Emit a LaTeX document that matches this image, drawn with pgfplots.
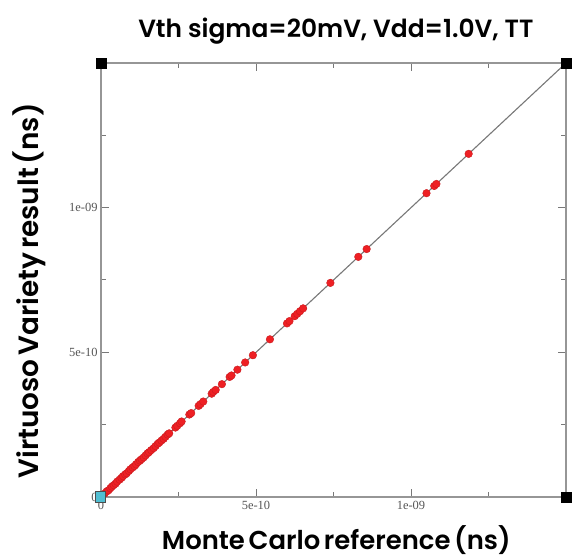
\documentclass[border=0pt]{standalone}
\usepackage{fontspec}
\usepackage{pgfplots}
\pgfplotsset{compat=1.18}
\setmainfont{Poppins}[BoldFont={Poppins SemiBold}]
\newfontfamily\labfont{Poppins}[BoldFont={Poppins SemiBold}, WordSpace=0.4]
\newfontfamily\ylabfont{Poppins}[BoldFont={Poppins SemiBold}, WordSpace=0.6]
\newfontfamily\tickfont{Liberation Serif}
\definecolor{dotred}{RGB}{238,32,36}
\definecolor{framegray}{RGB}{150,150,150}
\definecolor{linegray}{RGB}{120,120,120}
\definecolor{ticktext}{RGB}{85,85,85}
\definecolor{origincyan}{RGB}{80,190,210}

\begin{document}
\begin{tikzpicture}
\begin{axis}[
  scale only axis, width=465bp, height=434bp,
  xmin=0, xmax=1.5e-9, ymin=0, ymax=1.5e-9,
  clip=false, scaled ticks=false,
  axis line style={framegray, line width=1.4bp},
  tick align=inside,
  major tick length=8bp, minor tick length=5bp,
  every tick/.style={linegray, line width=1bp},
  xtick={0,5e-10,1e-9}, xticklabels={0,5e-10,1e-09},
  ytick={0,5e-10,1e-9}, yticklabels={0,5e-10,1e-09},
  minor xtick={2.5e-10,7.5e-10,1.25e-9},
  minor ytick={2.5e-10,7.5e-10,1.25e-9},
  ticklabel style={font=\tickfont\fontsize{12.5}{13}\selectfont, text=ticktext},
  xticklabel style={yshift=-1bp},
  title={\bfseries\fontsize{25}{27}\selectfont Vth sigma=20mV, Vdd=1.0V, TT},
  title style={at={(axis description cs:0.505,1.045)}, anchor=base},
  xlabel={\labfont\bfseries\fontsize{26}{28}\selectfont Monte Carlo reference (ns)},
  xlabel style={at={(axis description cs:0.506,-0.122)}, anchor=base},
  ylabel={\ylabfont\bfseries\fontsize{28}{30}\selectfont Virtuoso Variety result (ns)},
  ylabel style={at={(axis description cs:-0.135,0.475)}, anchor=base},
]
\addplot[linegray, line width=1.1bp] coordinates {(0,0) (1.5e-9,1.5e-9)};
\addplot[only marks, mark=*, mark size=3.8bp, mark options={fill=dotred, draw=dotred!85!black, line width=0.4bp}] coordinates {
(0.05e-10,0.05e-10) (0.12e-10,0.12e-10) (0.18e-10,0.19e-10) (0.24e-10,0.23e-10)
(0.30e-10,0.30e-10) (0.35e-10,0.36e-10) (0.41e-10,0.41e-10) (0.47e-10,0.46e-10)
(0.52e-10,0.53e-10) (0.60e-10,0.60e-10) (0.66e-10,0.66e-10) (0.71e-10,0.72e-10)
(0.78e-10,0.78e-10) (0.83e-10,0.82e-10) (0.90e-10,0.90e-10) (0.95e-10,0.96e-10)
(1.02e-10,1.02e-10) (1.08e-10,1.07e-10) (1.13e-10,1.13e-10) (1.20e-10,1.21e-10)
(1.26e-10,1.26e-10) (1.31e-10,1.31e-10) (1.38e-10,1.37e-10) (1.44e-10,1.44e-10)
(1.50e-10,1.51e-10) (1.55e-10,1.55e-10) (1.62e-10,1.62e-10) (1.70e-10,1.69e-10)
(1.76e-10,1.76e-10) (1.83e-10,1.84e-10) (1.88e-10,1.88e-10) (1.95e-10,1.95e-10)
(2.02e-10,2.01e-10) (2.08e-10,2.08e-10) (2.15e-10,2.16e-10) (2.20e-10,2.20e-10)
(2.40e-10,2.40e-10) (2.46e-10,2.46e-10) (2.55e-10,2.55e-10) (2.60e-10,2.61e-10)
(2.85e-10,2.85e-10) (2.91e-10,2.90e-10) (3.15e-10,3.15e-10) (3.21e-10,3.21e-10)
(3.30e-10,3.30e-10) (3.57e-10,3.57e-10) (3.62e-10,3.63e-10) (3.70e-10,3.70e-10)
(3.90e-10,3.90e-10) (4.15e-10,4.15e-10) (4.21e-10,4.20e-10) (4.40e-10,4.40e-10)
(4.65e-10,4.65e-10) (4.90e-10,4.90e-10) (5.45e-10,5.45e-10) (6.00e-10,6.00e-10)
(6.08e-10,6.08e-10) (6.25e-10,6.25e-10) (6.33e-10,6.33e-10) (6.42e-10,6.42e-10)
(6.52e-10,6.52e-10) (7.40e-10,7.40e-10) (8.30e-10,8.30e-10) (8.57e-10,8.57e-10)
(10.50e-10,10.50e-10) (10.75e-10,10.75e-10) (10.82e-10,10.82e-10) (11.86e-10,11.86e-10)
};
\addplot[only marks, mark=square*, mark size=5bp, mark options={fill=black, draw=black}] coordinates {(0,1.5e-9) (1.5e-9,1.5e-9) (1.5e-9,0)};
\addplot[only marks, mark=square*, mark size=5bp, mark options={fill=origincyan, draw=black!70, line width=1bp}] coordinates {(0,0)};
\end{axis}
\pgfresetboundingbox
\useasboundingbox ([shift={(-101bp,-62bp)}]current axis.south west) rectangle ([shift={(6bp,63bp)}]current axis.north east);
\end{tikzpicture}
\end{document}
